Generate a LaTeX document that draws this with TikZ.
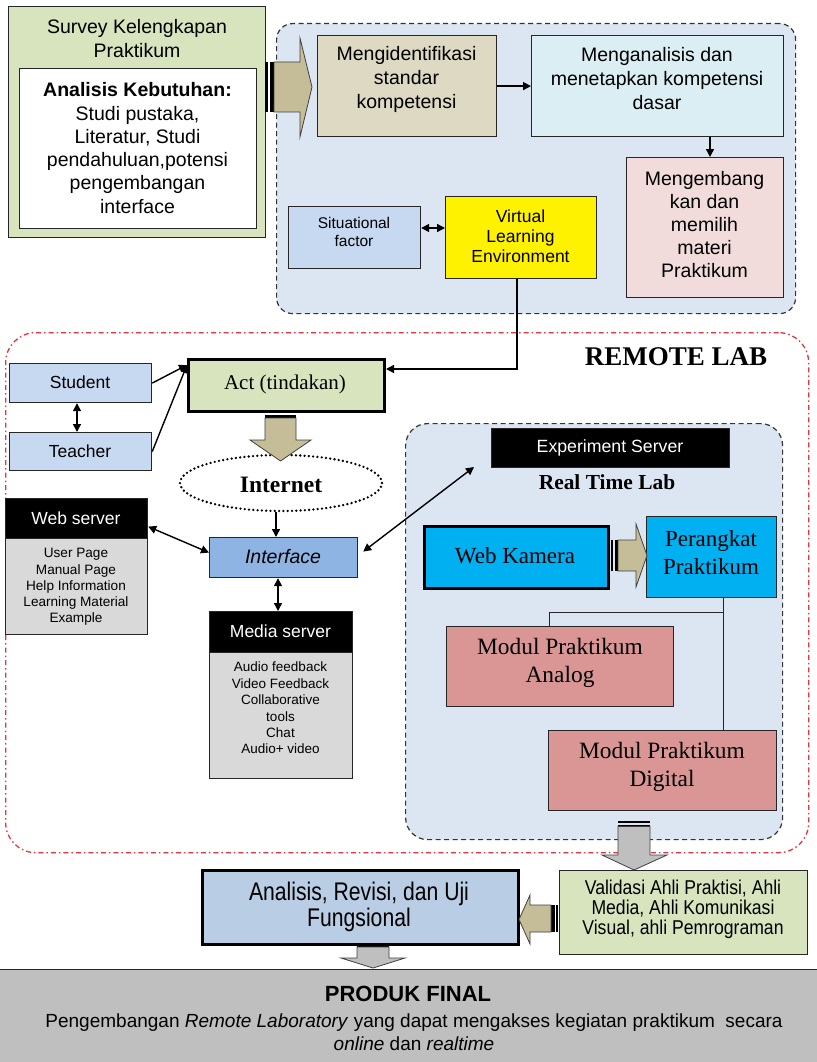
\documentclass[tikz,border=0pt]{standalone}
\usepackage{fontspec}
\setmainfont{Liberation Serif}
\setsansfont{Liberation Sans}
\newfontfamily\narrowfont[FakeStretch=0.83]{Liberation Sans}
\newfontfamily\vnarrowfont[FakeStretch=0.88]{Liberation Sans}
\usetikzlibrary{arrows.meta,shapes.geometric,calc}
\newcommand\myfs[2]{\fontsize{#1}{#2}\selectfont}
\definecolor{cgreen}{RGB}{215,228,189}
\definecolor{ckhaki}{RGB}{196,189,151}
\definecolor{ctan}{RGB}{221,217,195}
\definecolor{cice}{RGB}{219,238,244}
\definecolor{cpink}{RGB}{242,220,219}
\definecolor{cblue}{RGB}{198,217,241}
\definecolor{cregion}{RGB}{220,230,242}
\definecolor{cinter}{RGB}{142,180,227}
\definecolor{cgray}{RGB}{217,217,217}
\definecolor{ccyan}{RGB}{0,176,240}
\definecolor{cmodul}{RGB}{217,150,148}
\definecolor{canal}{RGB}{185,205,229}
\definecolor{cprod}{RGB}{191,191,191}
\definecolor{cred}{RGB}{228,52,64}
\begin{document}
\begin{tikzpicture}[x=1pt,y=-1pt,
  box/.style={draw=black!85, line width=1.2pt, inner sep=0pt, rectangle, anchor=north west},
  txt/.style={inner sep=0pt, align=center},
  arr/.style={line width=1.4pt, -{Triangle[length=8pt,width=8pt]}},
  darr/.style={line width=1.4pt, {Triangle[length=8pt,width=8pt]}-{Triangle[length=8pt,width=8pt]}},
  conn/.style={line width=1pt, draw=black!85},
  blk/.style={fill=ckhaki, draw=black!75, line width=0.8pt},
  gblk/.style={fill=cprod, draw=black!75, line width=0.8pt},
  region/.style={anchor=north west, inner sep=0pt, rectangle, fill=cregion, draw=black!80, line width=1.2pt, dash pattern=on 5pt off 3.5pt, rounded corners=16pt},
  redreg/.style={anchor=north west, inner sep=0pt, rectangle, draw=cred, line width=1.3pt, dash pattern=on 5pt off 3pt on 1.5pt off 3pt, rounded corners=30pt}
]
\useasboundingbox (0,0) rectangle (816,1062);
\fill[white] (0,0) rectangle (816,1062);

% regions
\node[region, minimum width=519pt, minimum height=290pt] (topreg) at (276,23) {};
\node[redreg, minimum width=803pt, minimum height=520pt] (remote) at (5,332) {};
\node[region, minimum width=377pt, minimum height=416pt, rounded corners=22pt] (rtl) at (405,423) {};

% survey
\node[box, fill=cgreen, minimum width=257pt, minimum height=231pt] (survey) at (8,6) {};
\node[txt, font=\sffamily\myfs{19.5}{23.5}] (surveyt) at (137,38.5) {Survey Kelengkapan\\Praktikum};
\node[box, fill=white, minimum width=237pt, minimum height=160pt] (inner) at (19,68) {};
\node[txt, font=\sffamily\myfs{19.5}{23.3}] (innert) at (137.5,148) {\textbf{Analisis Kebutuhan:}\\Studi pustaka,\\Literatur, Studi\\pendahuluan,potensi\\pengembangan\\interface};

% top region boxes
\node[box, fill=ctan, minimum width=179pt, minimum height=101pt] (mengid) at (317,35) {};
\node[txt, font=\sffamily\myfs{19.5}{24}] (mengidt) at (406.5,79) {Mengidentifikasi\\standar\\kompetensi};
\node[box, fill=cice, minimum width=252pt, minimum height=101pt] (menganal) at (531,35) {};
\node[txt, font=\sffamily\myfs{19.5}{24}] (menganalt) at (657,79) {Menganalisis dan\\menetapkan kompetensi\\dasar};
\node[box, fill=cpink, minimum width=157pt, minimum height=140pt] (mengemb) at (626,157) {};
\node[txt, font=\sffamily\myfs{19.5}{23}] (mengembt) at (704.5,225) {Mengembang\\kan dan\\memilih\\materi\\Praktikum};
\node[box, fill=cblue, minimum width=132pt, minimum height=62pt] (sit) at (288,206) {};
\node[txt, font=\sffamily\myfs{15.5}{18}] (sitt) at (354,232) {Situational\\factor};
\node[box, fill=yellow, minimum width=151pt, minimum height=82pt] (vle) at (445,196) {};
\node[txt, font=\sffamily\myfs{17.5}{20}] (vlet) at (520.5,236) {Virtual\\Learning\\Environment};

% remote lab left part
\node[box, fill=cblue, minimum width=142pt, minimum height=39pt] (student) at (9,363) {};
\node[txt, font=\sffamily\myfs{17.5}{20}] (studentt) at (80,382.5) {Student};
\node[box, fill=cblue, minimum width=142pt, minimum height=38pt] (teacher) at (9,432) {};
\node[txt, font=\sffamily\myfs{17.5}{20}] (teachert) at (80,451) {Teacher};
\node[box, fill=cgreen, draw=black, line width=3pt, minimum width=196pt, minimum height=52pt] (act) at (187,358) {};
\node[txt, font=\rmfamily\myfs{21}{24}] (actt) at (285,384) {Act (tindakan)};
\node[ellipse, draw=black, line width=2.6pt, dash pattern=on 0pt off 4.3pt, line cap=round, minimum width=202pt, minimum height=56pt, inner sep=0pt] (internet) at (281,483) {};
\node[txt, font=\rmfamily\bfseries\myfs{23.5}{26}] (internett) at (281,485) {Internet};
\node[box, fill=cinter, minimum width=148pt, minimum height=40pt] (interface) at (209,537) {};
\node[txt, font=\sffamily\itshape\myfs{19.5}{22}] (interfacet) at (283,557) {Interface};
\node[box, fill=black, minimum width=142pt, minimum height=40pt] (webhead) at (5,498) {};
\node[txt, text=white, font=\sffamily\myfs{17.5}{20}] (webheadt) at (76,518) {Web server};
\node[box, fill=cgray, minimum width=142pt, minimum height=96pt] (webbody) at (5,538) {};
\node[txt, font=\sffamily\myfs{13.6}{16.2}] (webbodyt) at (76,587) {User Page\\Manual Page\\Help Information\\Learning Material\\Example};
\node[box, fill=black, minimum width=143pt, minimum height=41pt] (mediahead) at (209,611) {};
\node[txt, text=white, font=\sffamily\myfs{17.5}{20}] (mediaheadt) at (280.5,631.5) {Media server};
\node[box, fill=cgray, minimum width=143pt, minimum height=126pt] (mediabody) at (209,652) {};
\node[txt, font=\sffamily\myfs{13.5}{16.4}] (mediabodyt) at (280.5,708) {Audio feedback\\Video Feedback\\Collaborative\\tools\\Chat\\Audio+ video};
\node[txt, font=\rmfamily\bfseries\myfs{27}{30}] (remotet) at (676,357) {REMOTE LAB};

% real time lab
\node[box, fill=black, minimum width=238pt, minimum height=39pt] (expserver) at (491,428) {};
\node[txt, text=white, font=\sffamily\myfs{17.7}{20}] (expservert) at (610,447.5) {Experiment Server};
\node[txt, font=\rmfamily\bfseries\myfs{21.4}{24}] (rtlt) at (607,482) {Real Time Lab};
\node[box, fill=ccyan, draw=black, line width=2.5pt, minimum width=184pt, minimum height=62pt] (webcam) at (423,525) {};
\node[txt, font=\rmfamily\myfs{23}{26}] (webcamt) at (515,556) {Web Kamera};
\node[box, fill=ccyan, minimum width=130pt, minimum height=81pt] (perangkat) at (646,516) {};
\node[txt, font=\rmfamily\myfs{23}{28}] (perangkatt) at (711,553) {Perangkat\\Praktikum};
\node[box, fill=cmodul, minimum width=227pt, minimum height=80pt] (analog) at (446,626) {};
\node[txt, font=\rmfamily\myfs{23.4}{28.5}] (analogt) at (560,663) {Modul Praktikum\\Analog};
\node[box, fill=cmodul, minimum width=228pt, minimum height=80pt] (digital) at (548,730) {};
\node[txt, font=\rmfamily\myfs{23.4}{28.5}] (digitalt) at (662,767) {Modul Praktikum\\Digital};

% bottom
\node[box, fill=canal, draw=black, line width=3pt, minimum width=316pt, minimum height=74pt] (analisis) at (201,869) {};
\node[txt, font=\narrowfont\myfs{25.5}{26}] (analisist) at (359,907) {Analisis, Revisi, dan Uji\\Fungsional};
\node[box, fill=cgreen, minimum width=248pt, minimum height=84pt] (validasi) at (559,870) {};
\node[txt, font=\vnarrowfont\myfs{20}{20}] (validasit) at (683,909) {Validasi Ahli Praktisi, Ahli\\Media, Ahli Komunikasi\\Visual, ahli Pemrograman};
\node[box, fill=cprod, minimum width=822pt, minimum height=110pt] (produk) at (-3,969) {};
\node[txt, font=\sffamily\bfseries\myfs{22}{24}] (produkt) at (408,994) {PRODUK FINAL};
\node[txt, font=\sffamily\myfs{19}{22.5}] (produkd) at (414,1032) {Pengembangan \textit{Remote Laboratory} yang dapat mengakses kegiatan praktikum\ \ secara\\\textit{online} dan \textit{realtime}};

% block arrows
\fill[black] (265,62) rectangle (267.5,112);
\fill[black] (269.5,62) rectangle (274,112);
\filldraw[blk] (274,62) -- (300,62) -- (300,38) -- (312,87) -- (300,137) -- (300,112) -- (274,112) -- cycle;

\fill[black] (265,410) rectangle (296,413);
\fill[black] (265,415) rectangle (296,418);
\filldraw[blk] (265,418) -- (265,440) -- (250,440) -- (280.5,461) -- (311,440) -- (296,440) -- (296,418) -- cycle;

\fill[black] (611,540) rectangle (613,571);
\fill[black] (614.5,540) rectangle (618,571);
\filldraw[blk] (618,540) -- (636,540) -- (636,524) -- (647,555.5) -- (636,587) -- (636,571) -- (618,571) -- cycle;

\fill[black] (618,821) rectangle (650,823);
\fill[black] (618,824.5) rectangle (650,826.5);
\filldraw[gblk] (618,826.5) -- (618,855) -- (602,855) -- (634,870) -- (667,855) -- (650,855) -- (650,826.5) -- cycle;

\fill[black] (556,905) rectangle (558,932);
\fill[black] (551,905) rectangle (554.5,932);
\filldraw[blk] (551,905) -- (530,905) -- (530,895) -- (519,919.5) -- (530,944) -- (530,932) -- (551,932) -- cycle;

\fill[black] (357,943) rectangle (389,947);
\filldraw[gblk] (357,947) -- (357,958) -- (341,958) -- (373,968) -- (405,958) -- (389,958) -- (389,947) -- cycle;

% connectors
\coordinate (cA) at (710,0);
\coordinate (cB) at (0,228);
\coordinate (cC) at (0,369);
\coordinate (cD) at (77,0);
\coordinate (cE) at (276,0);
\coordinate (cF) at (278,0);
\coordinate (cG) at (723,612);
\coordinate (cH) at (549,0);
\coordinate (cV) at (517,0);
\coordinate (rtlpt) at (474,467);
\draw[arr] (mengid.east) -- (menganal.west);
\draw[arr] (menganal.south -| cA) -- (mengemb.north -| cA);
\draw[darr] (sit.east |- cB) -- (vle.west |- cB);
\draw[arr] (vle.south -| cV) -- (cV |- cC) -- (act.east |- cC);
\draw[arr] (student.east) -- ([yshift=-7pt]act.north west);
\draw[arr] (teacher.east) -- ([yshift=-7pt]act.north west);
\draw[darr] (student.south -| cD) -- (teacher.north -| cD);
\draw[arr] (internet.south -| cE) -- (interface.north -| cE);
\draw[darr] ([yshift=-8pt]webhead.east) -- ([yshift=5pt]interface.west);
\draw[darr] (interface.south -| cF) -- (mediahead.north -| cF);
\draw[darr] ([xshift=5pt,yshift=6pt]interface.east) -- (rtlpt);
\draw[conn] (perangkat.south -| cG) -- (cG) -- (cG -| cH) -- (analog.north -| cH);
\draw[conn] (cG) -- (digital.north -| cG);
\end{tikzpicture}
\end{document}
